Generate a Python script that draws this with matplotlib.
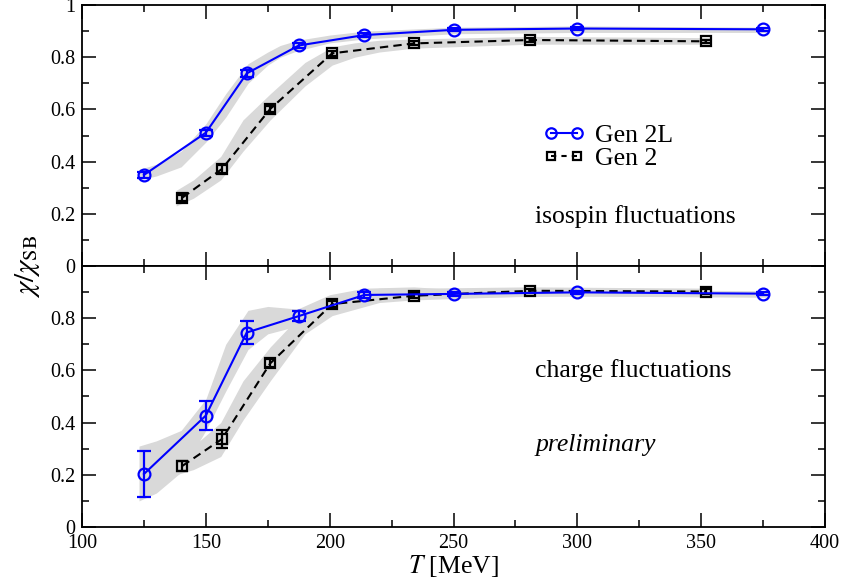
import numpy as np
import matplotlib
matplotlib.use("Agg")
import matplotlib.pyplot as plt
from matplotlib.lines import Line2D
from matplotlib.ticker import MultipleLocator

plt.rcParams['font.family'] = ['Liberation Serif', 'DejaVu Serif']
plt.rcParams['mathtext.fontset'] = 'stix'

# ---- data ----
# isospin fluctuations (top)
T_2L = [125, 150, 166.5, 187.5, 214, 250, 300, 375]
iso_2L = [0.349, 0.511, 0.738, 0.845, 0.885, 0.905, 0.910, 0.907]
iso_2L_err = [0.012, 0.012, 0.012, 0.01, 0.008, 0.006, 0.006, 0.006]
T_2 = [140.5, 156.5, 176, 201, 234, 281, 352]
iso_2 = [0.262, 0.372, 0.602, 0.815, 0.853, 0.866, 0.861]
iso_2_err = [0.012, 0.014, 0.012, 0.01, 0.008, 0.006, 0.006]

# charge fluctuations (bottom)
chg_2L = [0.203, 0.427, 0.745, 0.808, 0.889, 0.893, 0.899, 0.894]
chg_2L_err = [0.089, 0.056, 0.043, 0.02, 0.012, 0.008, 0.006, 0.006]
chg_2 = [0.234, 0.337, 0.627, 0.854, 0.886, 0.905, 0.902]
chg_2_err = [0.018, 0.034, 0.015, 0.012, 0.01, 0.008, 0.008]

# grey bands (lower/upper edges)
bT_iso_2L = [123, 130, 140, 150, 158, 167, 175, 180, 187, 200, 214, 250, 300, 377]
bLo_iso_2L = [0.33, 0.345, 0.38, 0.475, 0.57, 0.70, 0.77, 0.80, 0.825, 0.855, 0.87, 0.89, 0.895, 0.895]
bHi_iso_2L = [0.37, 0.39, 0.44, 0.545, 0.66, 0.775, 0.82, 0.845, 0.865, 0.885, 0.90, 0.915, 0.92, 0.915]
bT_iso_2 = [138, 145, 156, 165, 176, 190, 201, 210, 220, 234, 281, 354]
bLo_iso_2 = [0.23, 0.26, 0.33, 0.44, 0.56, 0.69, 0.77, 0.80, 0.82, 0.835, 0.85, 0.85]
bHi_iso_2 = [0.29, 0.33, 0.42, 0.56, 0.66, 0.78, 0.84, 0.855, 0.865, 0.87, 0.88, 0.875]

bT_chg_2L = [123, 130, 140, 150, 158, 167, 175, 187, 200, 214, 234, 250, 300, 377]
bLo_chg_2L = [0.10, 0.13, 0.21, 0.37, 0.52, 0.68, 0.74, 0.77, 0.81, 0.87, 0.875, 0.88, 0.885, 0.88]
bHi_chg_2L = [0.31, 0.33, 0.37, 0.49, 0.70, 0.83, 0.845, 0.835, 0.89, 0.915, 0.92, 0.91, 0.91, 0.905]
bT_chg_2 = [138, 145, 156, 165, 176, 190, 201, 220, 234, 281, 354]
bLo_chg_2 = [0.20, 0.22, 0.27, 0.41, 0.56, 0.74, 0.81, 0.86, 0.87, 0.885, 0.885]
bHi_chg_2 = [0.27, 0.31, 0.40, 0.56, 0.69, 0.83, 0.88, 0.915, 0.915, 0.92, 0.915]

blue = '#0000ff'
band = '#d9d9d9'

fig = plt.figure(figsize=(8.43, 5.86), dpi=100)
ax1 = fig.add_axes([0.0973, 0.546, 0.8814, 0.4454])
ax2 = fig.add_axes([0.0973, 0.1007, 0.8814, 0.4454])


def panel(ax, y2L, e2L, y2, e2, b2L, b2):
    ax.fill_between(b2L[0], b2L[1], b2L[2], color=band, lw=0, zorder=1)
    ax.fill_between(b2[0], b2[1], b2[2], color=band, lw=0, zorder=1)
    ax.errorbar(T_2L, y2L, yerr=e2L, color=blue, marker='o', ms=8.5,
                mfc='none', mew=1.6, lw=1.5, capsize=5, elinewidth=1.6,
                capthick=1.6, zorder=3)
    ax.errorbar(T_2, y2, yerr=e2, color='black', marker='s', ms=6.5,
                mfc='none', mew=1.6, lw=1.5, ls=(0, (4, 2.5)), capsize=4,
                elinewidth=1.6, capthick=1.6, zorder=2)
    ax.set_xlim(100, 400)
    ax.set_ylim(0, 1)
    ax.xaxis.set_major_locator(MultipleLocator(50))
    ax.xaxis.set_minor_locator(MultipleLocator(25))
    ax.yaxis.set_minor_locator(MultipleLocator(0.1))
    ax.set_yticks([0, 0.2, 0.4, 0.6, 0.8, 1.0])
    ax.tick_params(which='both', direction='in', top=True, right=True,
                   labelsize=14.5, width=1.1)
    ax.tick_params(which='major', length=10, pad=5)
    ax.tick_params(which='minor', length=5)
    for s in ax.spines.values():
        s.set_linewidth(1.3)


panel(ax1, iso_2L, iso_2L_err, iso_2, iso_2_err,
      (bT_iso_2L, bLo_iso_2L, bHi_iso_2L), (bT_iso_2, bLo_iso_2, bHi_iso_2))
panel(ax2, chg_2L, chg_2L_err, chg_2, chg_2_err,
      (bT_chg_2L, bLo_chg_2L, bHi_chg_2L), (bT_chg_2, bLo_chg_2, bHi_chg_2))

ax1.tick_params(labelbottom=False)
ax1.set_yticklabels(['0', '0.2', '0.4', '0.6', '0.8', '1'])
ax2.set_yticklabels(['0', '0.2', '0.4', '0.6', '0.8', ''])

ax2.set_xlabel(r'$T$ [MeV]', fontsize=18.5, labelpad=0)
fig.text(0.033, 0.546, r'$\chi/\chi_{\rm SB}$', rotation=90, fontsize=21,
         ha='center', va='center')

h1 = Line2D([], [], color=blue, marker='o', ms=7.5, mfc='none', mew=1.6, lw=1.5)
h2 = Line2D([], [], color='black', marker='s', ms=6, mfc='none', mew=1.6,
            lw=1.5, ls=(0, (2.5, 2.5)))
ax1.legend(handles=[h1, h2], labels=['Gen 2L', 'Gen 2'], loc='upper left',
           bbox_to_anchor=(0.607, 0.585), frameon=False, fontsize=18.5,
           numpoints=2, handlelength=1.6, handletextpad=0.4,
           labelspacing=0.0, borderaxespad=0)

ax1.text(0.61, 0.19, 'isospin fluctuations', transform=ax1.transAxes,
         fontsize=18.5, va='center')
ax2.text(0.61, 0.60, 'charge fluctuations', transform=ax2.transAxes,
         fontsize=18.5, va='center')
ax2.text(0.61, 0.315, 'preliminary', transform=ax2.transAxes,
         fontsize=18.5, va='center', style='italic')

fig.savefig('out.png', dpi=100)
